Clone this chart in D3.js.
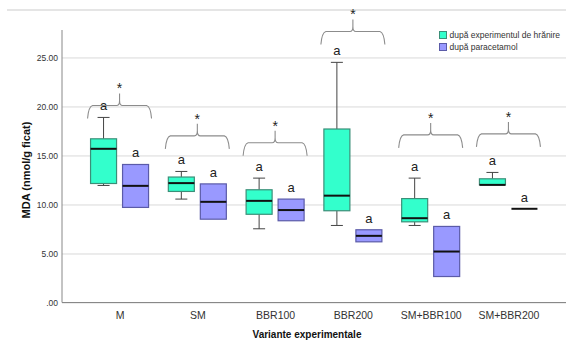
<!DOCTYPE html>
<html>
<head>
<meta charset="utf-8">
<script src="https://cdn.jsdelivr.net/npm/d3@7"></script>
<style>
  body { margin: 0; background: #fff; }
  svg { display: block; font-family: "Liberation Sans", Arial, sans-serif; }
</style>
</head>
<body>
<div id="chart"></div>
<script>
// categories and series
const categories = ["M", "SM", "BBR100", "BBR200", "SM+BBR100", "SM+BBR200"];
const seriesNames = ["după experimentul de hrănire", "după paracetamol"];

// box values per category: [min, q1, median, q3, max]
const hranireBoxes = [
    [11.94, 12.14, 15.68, 16.70, 18.88],
    [10.55, 11.33, 12.18, 12.80, 13.37],
    [7.52, 9.00, 10.37, 11.50, 12.69],
    [7.86, 9.36, 10.90, 17.70, 24.50],
    [7.86, 8.23, 8.60, 10.60, 12.69],
    [12.00, 12.00, 12.00, 12.62, 13.27]
];
const paracetamolBoxes = [
    [9.70, 9.70, 11.90, 14.08, 14.08],
    [8.50, 8.50, 10.27, 12.10, 12.10],
    [8.34, 8.34, 9.43, 10.55, 10.55],
    [6.19, 6.19, 6.80, 7.42, 7.42],
    [2.65, 2.65, 5.20, 7.76, 7.76],
    [9.56, 9.56, 9.56, 9.56, 9.56]
];

// significance brackets (level of the brace, in MDA units)
const bracketLevels = [20.1, 17.0, 16.3, 27.65, 17.1, 17.2];
const yTicks = [0, 5, 10, 15, 20, 25];

const width = 574;
const height = 343;
const marginLeft = 62;
const marginRight = 8;
const plotTop = 30;
const plotBottom = 302.5;

const fills = ["#33ffcc", "#9999ff"];
const strokes = ["#3b8f78", "#5b5ba8"];

const svg = d3.select("#chart")
    .append("svg")
    .attr("width", width)
    .attr("height", height)
    .attr("viewBox", [0, 0, width, height]);

// top frame line
svg.append("line")
    .attr("x1", 7).attr("x2", width - marginRight)
    .attr("y1", 10).attr("y2", 10)
    .attr("stroke", "#dcdcdc")
    .attr("stroke-width", 1.5);

const x = d3.scalePoint(categories, [marginLeft, width - marginRight]).padding(0.74);
const xs = d3.scaleBand(seriesNames, [-29, 29]).paddingInner(0.1875);
const y = d3.scaleLinear([0, 27.8], [plotBottom, plotTop]);

// gridlines + y tick labels
svg.append("g")
    .attr("transform", `translate(${marginLeft},0)`)
    .call(d3.axisLeft(y).tickValues(yTicks).tickFormat(d => d === 0 ? ".00" : d3.format(".2f")(d)).tickSize(0).tickPadding(4))
    .call(g => g.select(".domain").remove())
    .call(g => g.selectAll(".tick line").clone()
        .attr("x2", width - marginLeft - marginRight)
        .attr("stroke", "#d9d9d9"))
    .call(g => g.selectAll(".tick text")
        .attr("font-size", 8.5)
        .attr("fill", "#333")
        .attr("font-family", "Liberation Sans, Arial, sans-serif"));

// category axis
svg.append("g")
    .attr("transform", `translate(0,${plotBottom})`)
    .call(d3.axisBottom(x).tickSize(0).tickPadding(9))
    .call(g => g.select(".domain").remove())
    .call(g => g.selectAll(".tick text")
        .attr("font-size", 10.5)
        .attr("fill", "#333")
        .attr("font-family", "Liberation Sans, Arial, sans-serif"));

// axis lines
svg.append("line")
    .attr("x1", marginLeft).attr("x2", marginLeft)
    .attr("y1", plotTop).attr("y2", plotBottom)
    .attr("stroke", "#888");
svg.append("line")
    .attr("x1", marginLeft).attr("x2", width - marginRight)
    .attr("y1", plotBottom).attr("y2", plotBottom)
    .attr("stroke", "#888");

// build box list
const boxes = [];
categories.forEach((c, i) => {
    [hranireBoxes[i], paracetamolBoxes[i]].forEach((v, s) => {
        boxes.push({ cat: c, s: s, name: seriesNames[s], min: v[0], q1: v[1], med: v[2], q3: v[3], max: v[4] });
    });
});

const bw = xs.bandwidth();
const capW = 12;

const gBox = svg.append("g")
    .selectAll("g")
    .data(boxes)
    .join("g")
    .attr("transform", d => `translate(${x(d.cat) + xs(d.name) + bw / 2},0)`);

// whiskers
gBox.filter(d => d.max > d.q3)
    .call(g => g.append("line")
        .attr("y1", d => y(d.q3)).attr("y2", d => y(d.max))
        .attr("stroke", "#444"))
    .call(g => g.append("line")
        .attr("x1", -capW / 2).attr("x2", capW / 2)
        .attr("y1", d => y(d.max)).attr("y2", d => y(d.max))
        .attr("stroke", "#444"));
gBox.filter(d => d.min < d.q1)
    .call(g => g.append("line")
        .attr("y1", d => y(d.q1)).attr("y2", d => y(d.min))
        .attr("stroke", "#444"))
    .call(g => g.append("line")
        .attr("x1", -capW / 2).attr("x2", capW / 2)
        .attr("y1", d => y(d.min)).attr("y2", d => y(d.min))
        .attr("stroke", "#444"));

// boxes
gBox.filter(d => d.q3 > d.q1)
    .append("rect")
    .attr("x", -bw / 2)
    .attr("width", bw)
    .attr("y", d => y(d.q3))
    .attr("height", d => y(d.q1) - y(d.q3))
    .attr("fill", d => fills[d.s])
    .attr("stroke", d => strokes[d.s])
    .attr("stroke-width", 1.2);

// medians
gBox.append("line")
    .attr("x1", -bw / 2).attr("x2", bw / 2)
    .attr("y1", d => y(d.med)).attr("y2", d => y(d.med))
    .attr("stroke", "#111")
    .attr("stroke-width", 2);

// "a" letters
gBox.append("text")
    .attr("y", d => y(d.max) - 7)
    .attr("text-anchor", "middle")
    .attr("font-size", 13)
    .attr("fill", "#222")
    .text("a");

// braces with asterisks
const hw = 31;
const gBr = svg.append("g")
    .selectAll("g")
    .data(categories.map((c, i) => ({ cat: c, level: bracketLevels[i] })))
    .join("g")
    .attr("transform", d => `translate(${x(d.cat)},${y(d.level)})`);

gBr.append("path")
    .attr("d", () => {
        const p = d3.path();
        p.moveTo(-hw - 1, 13);
        p.quadraticCurveTo(-hw, 1, -hw + 4, 0);
        p.lineTo(-3, 0);
        p.quadraticCurveTo(0, 0, 0, -5);
        p.lineTo(0, -12);
        p.moveTo(0, -5);
        p.quadraticCurveTo(0, 0, 3, 0);
        p.lineTo(hw - 4, 0);
        p.quadraticCurveTo(hw, 1, hw + 1, 13);
        return p.toString();
    })
    .attr("fill", "none")
    .attr("stroke", "#8c8c8c")
    .attr("stroke-width", 1.1);

gBr.append("text")
    .attr("y", -12)
    .attr("text-anchor", "middle")
    .attr("font-size", 14)
    .attr("fill", "#222")
    .text("*");

// axis titles
svg.append("text")
    .attr("x", 307)
    .attr("y", 338)
    .attr("text-anchor", "middle")
    .attr("font-size", 10)
    .attr("font-weight", "bold")
    .attr("fill", "#111")
    .text("Variante experimentale");

svg.append("text")
    .attr("transform", "translate(30,170) rotate(-90)")
    .attr("text-anchor", "middle")
    .attr("font-size", 11)
    .attr("font-weight", "bold")
    .attr("fill", "#111")
    .text("MDA (nmol/g ficat)");

// legend
const legend = svg.append("g")
    .attr("transform", "translate(439.5,31.5)")
    .selectAll("g")
    .data(seriesNames)
    .join("g")
    .attr("transform", (d, i) => `translate(0,${i * 12})`);

legend.append("rect")
    .attr("width", 7).attr("height", 7)
    .attr("fill", (d, i) => fills[i])
    .attr("stroke", (d, i) => strokes[i]);

legend.append("text")
    .attr("x", 10)
    .attr("y", 6.5)
    .attr("font-size", 8.5)
    .attr("fill", "#333")
    .text(d => d);
</script>
</body>
</html>
